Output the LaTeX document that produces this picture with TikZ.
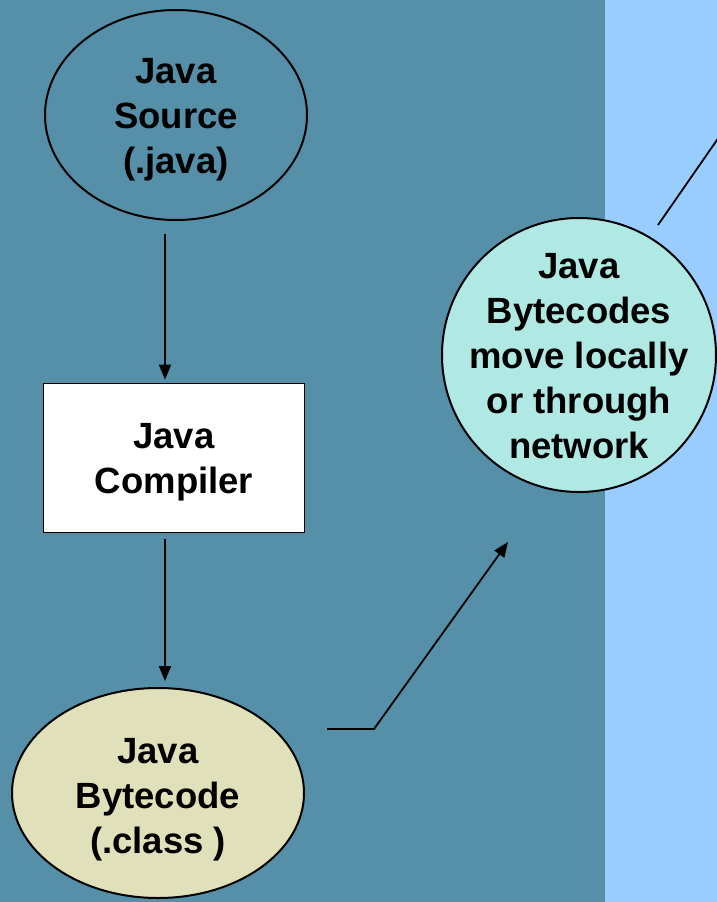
\documentclass[tikz,border=0pt]{standalone}
\usepackage{fontspec}
\setmainfont{Liberation Sans}
\usetikzlibrary{shapes.geometric,arrows.meta}
\definecolor{panelteal}{RGB}{86,143,168}
\definecolor{panelblue}{RGB}{153,204,255}
\definecolor{netcyan}{RGB}{176,232,228}
\definecolor{classbeige}{RGB}{224,224,186}
\tikzset{
  lbl/.style={font=\bfseries\fontsize{36.5}{45}\selectfont, align=center, text=black, inner sep=0pt},
  outline/.style={draw=black, line width=2pt, inner sep=0pt},
  oval/.style={outline, ellipse},
  flow/.style={line width=1.8pt, -{Triangle[length=15pt,width=12pt]}},
}

\begin{document}
\begin{tikzpicture}[x=1pt,y=-1pt]
		%%%%% START %%%%%
		\useasboundingbox (0,0) rectangle (717,902);
		\fill[panelteal] (0,0) rectangle (605,902);
		\fill[panelblue] (605,0) rectangle (717,902);
		
		\node[oval, minimum width=262pt, minimum height=210pt,
		  label={[lbl,yshift=-5pt]center:Java\\Source\\(.java)}] (src) at (176,115) {};
		\node[outline, fill=white, line width=1.8pt, minimum width=261pt, minimum height=149pt,
		  label={[lbl,yshift=-4pt]center:Java\\Compiler}] (jc) at (174,458) {};
		\node[oval, fill=classbeige, minimum width=292pt, minimum height=210pt,
		  label={[lbl,yshift=-7pt]center:Java\\Bytecode\\(.class )}] (bc) at (158,793) {};
		\node[outline, circle, fill=netcyan, minimum size=274pt,
		  label={[lbl,yshift=-1pt]center:Java\\Bytecodes\\move locally\\or through\\network}] (net) at (579,355) {};
		
		\coordinate (spine) at (165,0);
		\draw[flow, shorten <=13pt, shorten >=3pt] (src.south -| spine) -- (jc.north -| spine);
		\draw[flow, shorten <=6pt, shorten >=6pt] (jc.south -| spine) -- (bc.north -| spine);
		
		\coordinate (tail) at (327,729);
		\coordinate (bend) at (374,729);
		\coordinate (hop) at (508,542);
		\draw[flow] (tail) -- (bend) -- (hop);
		
		\coordinate (lnkA) at (658,225);
		\coordinate (lnkB) at (735,114);
		\draw[line width=1.8pt] (lnkA) -- (lnkB);
		%%%%% END %%%%%
\end{tikzpicture}
\end{document}
